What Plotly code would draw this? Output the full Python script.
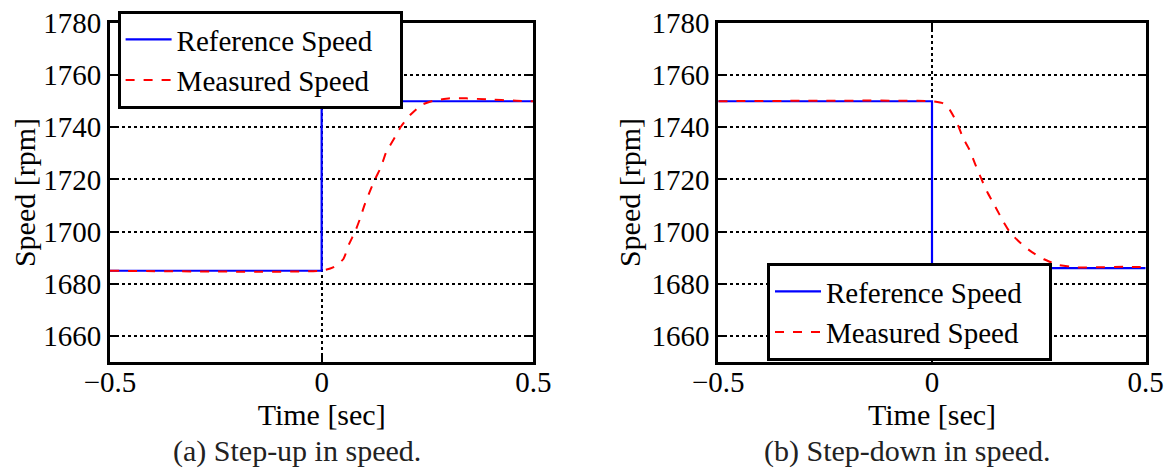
import plotly.graph_objects as go

# ---------------- data ----------------
ref_up_t = [-0.5, 0.0, 0.5]
ref_up_v = [1685, 1750, 1750]

meas_up_t = [-0.5, 0.0, 0.027, 0.051, 0.065, 0.079, 0.091, 0.100, 0.112, 0.127,
             0.140, 0.152, 0.173, 0.187, 0.209, 0.236, 0.264, 0.303, 0.342,
             0.390, 0.460, 0.5]
meas_up_v = [1685, 1685, 1686.3, 1689.4, 1695.3, 1700.0, 1705.1, 1709.6, 1714.7,
             1720.4, 1724.7, 1730.3, 1736.2, 1740.2, 1744.7, 1748.6, 1750.2,
             1751.1, 1751.1, 1750.7, 1750.2, 1750.0]

ref_dn_t = [-0.5, 0.0, 0.5]
ref_dn_v = [1750, 1686, 1686]

meas_dn_t = [-0.5, 0.0, 0.026, 0.042, 0.059, 0.073, 0.087, 0.101, 0.115, 0.129,
             0.148, 0.167, 0.183, 0.204, 0.229, 0.262, 0.296, 0.339, 0.390,
             0.450, 0.5]
meas_dn_v = [1750, 1750, 1749.2, 1746.6, 1741.5, 1735.8, 1731.6, 1725.9, 1720.4,
             1715.3, 1709.6, 1703.8, 1699.6, 1696.1, 1692.7, 1689.4, 1687.2,
             1686.3, 1686.3, 1686.5, 1686.4]

x_ticks = [-0.5, 0, 0.5]
x_tick_text = ["\u22120.5", "0", "0.5"]
y_ticks = [1660, 1680, 1700, 1720, 1740, 1760, 1780]
y_range = [1650, 1780]
x_range = [-0.5, 0.5]

names = ["Reference Speed", "Measured Speed"]
captions = ["(a) Step-up in speed.", "(b) Step-down in speed."]
x_title = "Time [sec]"
y_title = "Speed [rpm]"

# ---------------- figure ----------------
FONT = "Liberation Serif"
fig = go.Figure()

ref_line = dict(color="#0000FF", width=2.2)
meas_line = dict(color="#FF0000", width=2, dash="dash", shape="spline", smoothing=0.5)
pad = "\u00a0\u00a0\u00a0"  # trailing padding inside the legend box

fig.add_trace(go.Scatter(x=ref_up_t, y=ref_up_v, mode="lines", line_shape="hv",
                         line=ref_line, name=names[0] + pad,
                         xaxis="x", yaxis="y", legend="legend"))
fig.add_trace(go.Scatter(x=meas_up_t, y=meas_up_v, mode="lines",
                         line=meas_line, name=names[1] + pad,
                         xaxis="x", yaxis="y", legend="legend"))
fig.add_trace(go.Scatter(x=ref_dn_t, y=ref_dn_v, mode="lines", line_shape="hv",
                         line=ref_line, name=names[0] + pad,
                         xaxis="x2", yaxis="y2", legend="legend2"))
fig.add_trace(go.Scatter(x=meas_dn_t, y=meas_dn_v, mode="lines",
                         line=meas_line, name=names[1] + pad,
                         xaxis="x2", yaxis="y2", legend="legend2"))

# page body has an 8px margin: positions below are in reference pixels minus OFF
OFF = 8
W, H = 1176 - OFF, 470 - OFF
mt = 23 - OFF
mb = H - (362 - OFF)

def px(x):
    return (x - OFF) / W

plot_h = H - mt - mb
def py(y):
    return (H - (y - OFF) - mb) / plot_h

def xax(domain, anchor):
    return dict(domain=domain, anchor=anchor, range=x_range, tickmode="array",
                tickvals=x_ticks, ticktext=x_tick_text, ticks="inside", ticklen=7,
                tickwidth=2, tickcolor="black", showline=True, linewidth=3,
                linecolor="black", mirror="ticks", showgrid=True, gridcolor="black",
                gridwidth=2.4, griddash="dot", zeroline=False, automargin=False,
                ticklabelstandoff=-8, ticklabeloverflow="allow",
                tickfont=dict(family=FONT, size=29, color="black"),
                title=dict(text=x_title, font=dict(family=FONT, size=30, color="black"),
                           standoff=0))

def yax(anchor):
    return dict(domain=[0, 1], anchor=anchor, range=y_range, tickmode="array",
                tickvals=y_ticks, ticks="inside", ticklen=7, tickwidth=2,
                tickcolor="black", showline=True, linewidth=3, linecolor="black",
                mirror="ticks", showgrid=True, gridcolor="black", gridwidth=2.4,
                griddash="dot", zeroline=False, automargin=False,
                ticklabeloverflow="allow",
                tickfont=dict(family=FONT, size=29, color="black"),
                title=dict(text=y_title, font=dict(family=FONT, size=30, color="black"),
                           standoff=3))

leg_common = dict(bgcolor="white", bordercolor="black", borderwidth=3,
                  font=dict(family=FONT, size=29, color="black"),
                  xanchor="left", yanchor="middle", itemwidth=46,
                  tracegroupgap=0, itemclick=False)

fig.update_layout(
    width=W, height=H,
    margin=dict(l=0, r=0, t=mt, b=mb, autoexpand=False),
    paper_bgcolor="white", plot_bgcolor="white",
    xaxis=xax([px(110), px(533.3)], "y"),
    yaxis=yax("x"),
    xaxis2=xax([px(718.3), px(1145.7)], "y2"),
    yaxis2=yax("x2"),
    legend=dict(x=px(117.6), y=py(60), **leg_common),
    legend2=dict(x=px(767), y=py(312), **leg_common),
    showlegend=True,
)

for cx, txt in zip([px(297), px(907)], captions):
    fig.add_annotation(text=txt, xref="paper", yref="paper", x=cx, y=py(451),
                       xanchor="center", yanchor="middle", showarrow=False,
                       font=dict(family=FONT, size=30, color="#222222"))

fig.write_html("out.html")
